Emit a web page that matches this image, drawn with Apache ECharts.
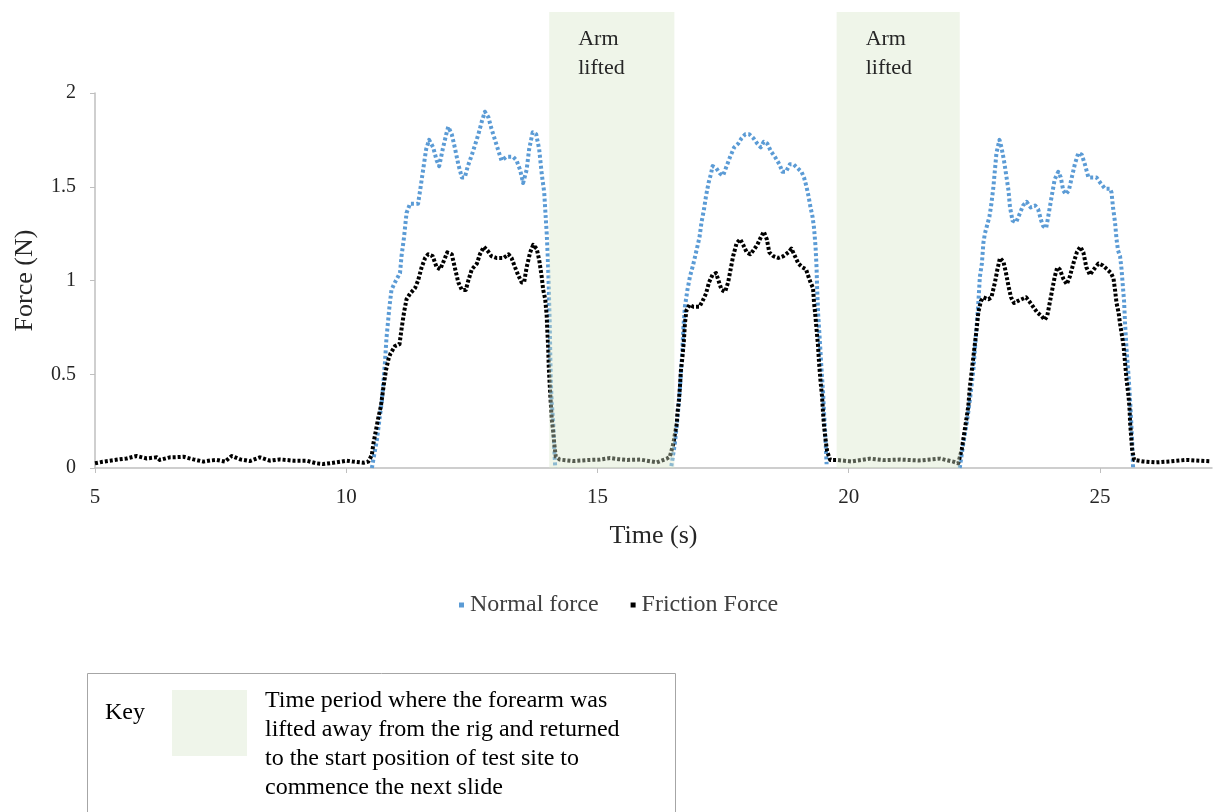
<!DOCTYPE html>
<html>
<head>
<meta charset="utf-8">
<script src="https://cdn.jsdelivr.net/npm/echarts@6/dist/echarts.min.js"></script>
<style>
html,body{margin:0;padding:0;background:#fff;}
#chart{width:1214px;height:812px;}
</style>
</head>
<body>
<div id="chart"></div>
<script>
// ---- data (time in s, force in N) ----
const xTicks = [5, 10, 15, 20, 25];
const yTicks = [0, 0.5, 1, 1.5, 2];

const frictionBaseline1 = [[5.00,.025],[5.15,.033],[5.30,.039],[5.45,.045],[5.63,.051],[5.83,.064],[6.03,.051],[6.23,.057],[6.29,.043],[6.49,.057],[6.62,.058],[6.76,.060],[6.96,.046],[7.16,.034],[7.30,.040],[7.42,.043],[7.59,.034],[7.72,.064],[7.89,.046],[8.08,.037],[8.28,.057],[8.48,.039],[8.68,.046],[8.95,.039],[9.21,.039],[9.41,.025],[9.54,.021],[9.74,.028],[10.01,.039],[10.14,.034],[10.34,.028],[10.44,.034]];
const frictionSlide1 = [[10.51,.07],[10.54,.13],[10.59,.20],[10.64,.27],[10.69,.33],[10.74,.43],[10.79,.52],[10.84,.58],[10.88,.61],[10.97,.65],[11.06,.66],[11.10,.74],[11.15,.83],[11.20,.90],[11.27,.93],[11.37,.96],[11.43,1.00],[11.50,1.07],[11.57,1.12],[11.63,1.14],[11.72,1.13],[11.80,1.07],[11.87,1.06],[11.95,1.11],[12.01,1.15],[12.10,1.14],[12.16,1.07],[12.23,.99],[12.30,.95],[12.38,.95],[12.43,1.00],[12.50,1.06],[12.60,1.09],[12.66,1.14],[12.74,1.18],[12.81,1.16],[12.89,1.13],[12.99,1.12],[13.13,1.12],[13.23,1.14],[13.29,1.12],[13.36,1.07],[13.42,1.03],[13.49,.99],[13.54,.99],[13.59,1.07],[13.66,1.15],[13.72,1.19],[13.79,1.17],[13.84,1.11],[13.89,1.02],[13.92,.95],[13.96,.90],[13.99,.81],[14.00,.74],[14.02,.64],[14.03,.54],[14.05,.44],[14.07,.35],[14.09,.26],[14.12,.19],[14.14,.13],[14.17,.06],[14.25,.045]];
const frictionBaseline2 = [[14.51,.037],[14.85,.043],[15.05,.045],[15.25,.053],[15.42,.047],[15.59,.043],[15.85,.045],[16.18,.030],[16.38,.050],[16.44,.06]];
const frictionSlide2 = [[16.51,.13],[16.54,.18],[16.58,.24],[16.59,.29],[16.62,.36],[16.64,.43],[16.66,.52],[16.69,.59],[16.72,.68],[16.74,.77],[16.77,.84],[16.83,.87],[16.91,.86],[17.03,.86],[17.09,.89],[17.16,.93],[17.22,.99],[17.29,1.03],[17.36,1.04],[17.42,.99],[17.47,.95],[17.54,.94],[17.60,.99],[17.65,1.06],[17.70,1.13],[17.77,1.20],[17.84,1.22],[17.90,1.19],[17.97,1.15],[18.04,1.14],[18.10,1.16],[18.18,1.19],[18.25,1.23],[18.31,1.26],[18.37,1.22],[18.42,1.15],[18.50,1.13],[18.60,1.12],[18.70,1.13],[18.80,1.15],[18.86,1.17],[18.93,1.13],[19.00,1.09],[19.08,1.07],[19.15,1.06],[19.20,1.02],[19.24,.99],[19.29,.96],[19.31,.88],[19.33,.83],[19.36,.74],[19.39,.65],[19.41,.56],[19.44,.46],[19.47,.38],[19.49,.29],[19.51,.22],[19.54,.15],[19.57,.09],[19.63,.043]];
const frictionBaseline3 = [[19.76,.043],[20.05,.035],[20.42,.050],[20.70,.042],[21.02,.045],[21.40,.040],[21.82,.050],[22.08,.034],[22.18,.025]];
const frictionSlide3 = [[22.25,.10],[22.29,.17],[22.33,.24],[22.38,.33],[22.41,.43],[22.45,.52],[22.48,.59],[22.51,.66],[22.55,.75],[22.58,.83],[22.63,.89],[22.68,.91],[22.78,.90],[22.84,.91],[22.91,.99],[22.96,1.06],[23.01,1.12],[23.08,1.10],[23.13,1.04],[23.18,.97],[23.23,.91],[23.29,.88],[23.36,.89],[23.44,.90],[23.53,.91],[23.59,.89],[23.67,.86],[23.75,.83],[23.84,.81],[23.90,.79],[23.95,.81],[24.00,.88],[24.05,.95],[24.10,1.02],[24.15,1.07],[24.20,1.06],[24.27,1.01],[24.34,.98],[24.40,1.02],[24.47,1.09],[24.54,1.15],[24.61,1.18],[24.67,1.15],[24.73,1.07],[24.80,1.03],[24.88,1.06],[24.97,1.09],[25.06,1.08],[25.14,1.06],[25.22,1.04],[25.27,1.01],[25.30,.95],[25.33,.88],[25.37,.83],[25.40,.77],[25.43,.72],[25.47,.65],[25.50,.56],[25.53,.47],[25.57,.38],[25.59,.31],[25.60,.24],[25.62,.17],[25.64,.10],[25.68,.043]];
const frictionBaseline4 = [[25.86,.035],[26.12,.030],[26.39,.035],[26.59,.040],[26.72,.043],[26.90,.040],[27.18,.036]];

const normalSlide1 = [[10.51,0],[10.61,.15],[10.71,.36],[10.77,.56],[10.80,.69],[10.86,.86],[10.90,.95],[10.97,.99],[11.07,1.04],[11.10,1.13],[11.15,1.23],[11.20,1.36],[11.27,1.41],[11.43,1.41],[11.47,1.48],[11.53,1.59],[11.59,1.70],[11.65,1.75],[11.73,1.71],[11.80,1.64],[11.85,1.61],[11.92,1.70],[11.99,1.78],[12.03,1.82],[12.10,1.78],[12.16,1.71],[12.23,1.62],[12.30,1.55],[12.36,1.55],[12.42,1.61],[12.50,1.67],[12.56,1.72],[12.63,1.78],[12.70,1.85],[12.76,1.90],[12.83,1.87],[12.89,1.81],[12.96,1.75],[13.03,1.69],[13.09,1.64],[13.19,1.66],[13.32,1.66],[13.39,1.64],[13.46,1.59],[13.52,1.52],[13.59,1.59],[13.64,1.70],[13.71,1.79],[13.78,1.78],[13.84,1.70],[13.89,1.57],[13.94,1.47],[13.96,1.38],[13.99,1.25],[14.01,1.13],[14.03,.97],[14.05,.77],[14.07,.47],[14.09,.35],[14.12,.24],[14.14,.10],[14.16,0]];
const normalSlide2 = [[16.47,.01],[16.54,.13],[16.59,.26],[16.63,.38],[16.66,.50],[16.69,.63],[16.71,.75],[16.74,.86],[16.79,.95],[16.84,1.02],[16.91,1.09],[16.97,1.16],[17.03,1.23],[17.07,1.31],[17.12,1.38],[17.16,1.45],[17.21,1.52],[17.26,1.57],[17.29,1.61],[17.36,1.60],[17.44,1.57],[17.50,1.56],[17.57,1.61],[17.64,1.66],[17.72,1.71],[17.80,1.73],[17.87,1.76],[17.94,1.78],[18.02,1.78],[18.10,1.76],[18.18,1.73],[18.25,1.71],[18.31,1.74],[18.38,1.73],[18.45,1.69],[18.53,1.66],[18.62,1.62],[18.68,1.58],[18.75,1.58],[18.83,1.62],[18.90,1.62],[18.98,1.60],[19.06,1.58],[19.11,1.55],[19.16,1.50],[19.20,1.45],[19.24,1.39],[19.28,1.34],[19.31,1.28],[19.34,1.18],[19.36,1.07],[19.37,.97],[19.39,.83],[19.43,.66],[19.46,.52],[19.49,.40],[19.51,.29],[19.53,.20],[19.56,.02]];
const normalSlide3 = [[22.21,0],[22.28,.13],[22.35,.24],[22.41,.36],[22.48,.52],[22.53,.70],[22.58,.88],[22.61,1.02],[22.65,1.09],[22.68,1.20],[22.71,1.25],[22.75,1.29],[22.80,1.34],[22.84,1.41],[22.88,1.50],[22.91,1.59],[22.94,1.68],[23.00,1.75],[23.04,1.71],[23.09,1.64],[23.13,1.57],[23.18,1.48],[23.21,1.39],[23.26,1.32],[23.33,1.31],[23.41,1.36],[23.47,1.40],[23.54,1.42],[23.62,1.39],[23.71,1.40],[23.77,1.38],[23.83,1.32],[23.87,1.29],[23.93,1.28],[23.97,1.34],[24.04,1.45],[24.10,1.54],[24.17,1.58],[24.22,1.55],[24.27,1.48],[24.32,1.46],[24.38,1.48],[24.44,1.55],[24.50,1.62],[24.57,1.68],[24.64,1.67],[24.70,1.62],[24.77,1.55],[24.85,1.55],[24.93,1.55],[25.01,1.52],[25.10,1.49],[25.20,1.49],[25.23,1.47],[25.26,1.39],[25.30,1.31],[25.33,1.22],[25.36,1.16],[25.40,1.13],[25.43,1.06],[25.45,.99],[25.48,.89],[25.50,.77],[25.53,.63],[25.57,.49],[25.60,.36],[25.62,.26],[25.64,.15],[25.66,0]];

const armLiftedStart = [14.04, 19.76];
const armLiftedEnd = [16.53, 22.21];
const armLiftedLabel = 'Arm\nlifted';

// ---- build ----
const FONT = "'Liberation Serif', 'Times New Roman', serif";
const friction = [].concat(frictionBaseline1, frictionSlide1, frictionBaseline2, frictionSlide2, frictionBaseline3, frictionSlide3, frictionBaseline4);
const gap = (a) => a.concat([[a[a.length-1][0] + 0.01, null]]);
const normal = [].concat(gap(normalSlide1), gap(normalSlide2), normalSlide3);

const X_MIN = xTicks[0], X_MAX = 27.23;
const SHADE_TOP = 2.432;

const chart = echarts.init(document.getElementById('chart'), null, {renderer: 'canvas'});
const option = {
  animation: false,
  backgroundColor: '#ffffff',
  textStyle: {fontFamily: FONT},
  grid: [
    {left: 95, right: 2, top: 93, bottom: 344},
    {left: 95, right: 2, top: 12, bottom: 344}
  ],
  legend: {
    data: ['Normal force', 'Friction Force'],
    left: 454, top: 588,
    icon: 'rect', itemWidth: 5, itemHeight: 5, itemGap: 32,
    textStyle: {fontFamily: FONT, fontSize: 24, color: '#404040', padding: [0,0,0,1]}
  },
  xAxis: [
    {
      type: 'value', gridIndex: 0, min: X_MIN, max: X_MAX, interval: 5,
      name: 'Time (s)', nameLocation: 'middle', nameGap: 55,
      nameTextStyle: {fontFamily: FONT, fontSize: 26, color: '#262626'},
      axisLine: {show: true, onZero: false, lineStyle: {color: '#bfbfbf', width: 1.5}},
      axisTick: {show: true, length: 5, lineStyle: {color: '#bfbfbf'}},
      axisLabel: {fontFamily: FONT, fontSize: 21, color: '#262626', margin: 19, showMaxLabel: false,
        formatter: v => xTicks.includes(v) ? String(v) : ''},
      splitLine: {show: false}
    },
    {type: 'value', gridIndex: 1, min: X_MIN, max: X_MAX, show: false}
  ],
  yAxis: [
    {
      type: 'value', gridIndex: 0, min: 0, max: 2, interval: 0.5,
      name: 'Force (N)', nameLocation: 'middle', nameGap: 57, nameRotate: 90,
      nameTextStyle: {fontFamily: FONT, fontSize: 26, color: '#262626'},
      axisLine: {show: true, lineStyle: {color: '#bfbfbf', width: 1.5}},
      axisTick: {show: true, length: 5, lineStyle: {color: '#bfbfbf'}},
      axisLabel: {fontFamily: FONT, fontSize: 20, color: '#262626', margin: 19,
        formatter: v => yTicks.includes(v) ? String(v) : ''},
      splitLine: {show: false}
    },
    {type: 'value', gridIndex: 1, min: 0, max: SHADE_TOP, show: false}
  ],
  series: [
    {
      name: 'Normal force', type: 'line', xAxisIndex: 0, yAxisIndex: 0,
      data: normal, showSymbol: false, connectNulls: false, z: 2,
      itemStyle: {color: '#5b9bd5'},
      lineStyle: {color: '#5b9bd5', width: 4, type: [3, 2.5], cap: 'butt', join: 'round'}
    },
    {
      name: 'Friction Force', type: 'line', xAxisIndex: 0, yAxisIndex: 0,
      data: friction, showSymbol: false, z: 3,
      itemStyle: {color: '#000000'},
      lineStyle: {color: '#000000', width: 4, type: [3, 2], cap: 'butt', join: 'round'}
    },
    {
      name: 'shade', type: 'line', xAxisIndex: 1, yAxisIndex: 1,
      data: [], silent: true, z: 10,
      markArea: {
        silent: true, z: 10,
        itemStyle: {color: 'rgba(214,230,200,0.4)'},
        label: {show: true, position: [29, 13], align: 'left', verticalAlign: 'top',
          fontFamily: FONT, fontSize: 22, lineHeight: 29, color: '#262626'},
        data: armLiftedStart.map((s, i) => [
          {xAxis: s, yAxis: 0, name: armLiftedLabel},
          {xAxis: armLiftedEnd[i], yAxis: SHADE_TOP}
        ])
      }
    }
  ],
  graphic: [
    {type: 'rect', left: 87, top: 673, shape: {width: 588, height: 150},
      style: {fill: '#ffffff', stroke: '#a6a6a6', lineWidth: 1}, z: 0},
    {type: 'text', left: 105, top: 701, style: {text: 'Key', font: '24px ' + FONT, fill: '#000'}, z: 1},
    {type: 'rect', left: 172, top: 690, shape: {width: 75, height: 66},
      style: {fill: '#eff5ea'}, z: 1},
    {type: 'text', left: 265, top: 686,
      style: {text: 'Time period where the forearm was\nlifted away from the rig and returned\nto the start position of test site to\ncommence the next slide',
        font: '24px ' + FONT, lineHeight: 29, fill: '#000'}, z: 1}
  ]
};
chart.setOption(option);
</script>
</body>
</html>
